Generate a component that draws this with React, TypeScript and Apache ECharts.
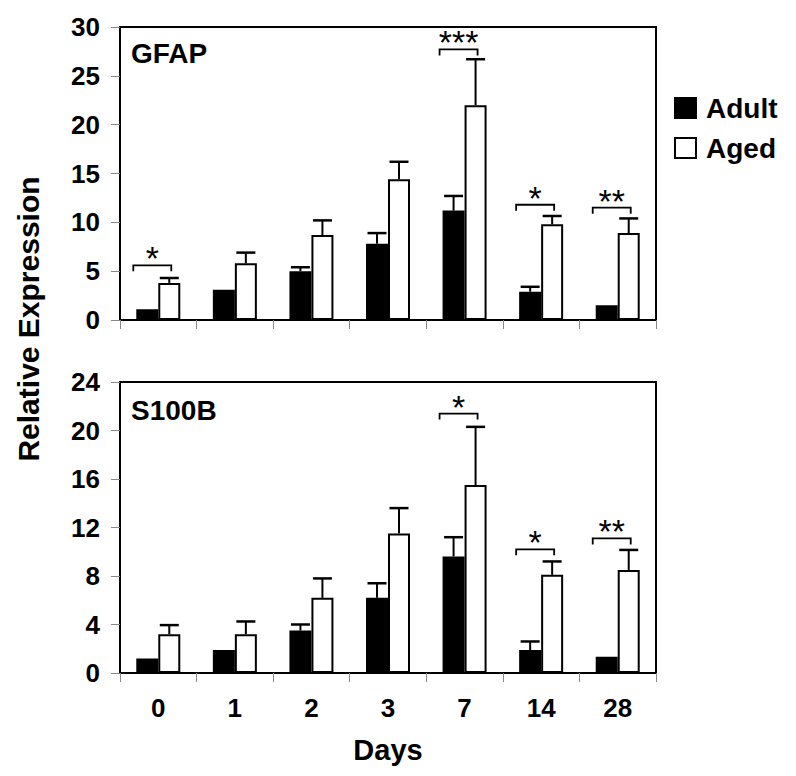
import React, { useEffect, useRef } from "react";
import * as echarts from "echarts";

const categories = ["0", "1", "2", "3", "7", "14", "28"];

const gfapAdult = [1.1, 3.1, 5.0, 7.8, 11.2, 2.9, 1.5];
const gfapAdultErr = [0, 0, 0.4, 1.1, 1.5, 0.5, 0];
const gfapAged = [3.8, 5.8, 8.7, 14.4, 22.0, 9.8, 8.9];
const gfapAgedErr = [0.5, 1.1, 1.5, 1.8, 4.7, 0.85, 1.5];

const s100bAdult = [1.2, 1.9, 3.5, 6.2, 9.6, 1.9, 1.35];
const s100bAdultErr = [0, 0, 0.5, 1.2, 1.6, 0.7, 0];
const s100bAged = [3.2, 3.2, 6.2, 11.5, 15.5, 8.1, 8.5];
const s100bAgedErr = [0.75, 1.05, 1.6, 2.1, 4.8, 1.1, 1.65];

// significance brackets: [category index, bracket level, stars]
const gfapSig: [number, number, string][] = [
  [0, 5.6, "*"],
  [4, 27.7, "***"],
  [5, 11.8, "*"],
  [6, 11.5, "**"],
];
const s100bSig: [number, number, string][] = [
  [4, 21.4, "*"],
  [5, 10.2, "*"],
  [6, 11.1, "**"],
];

const FONT = "'Liberation Sans', Arial, sans-serif";
const BAR_W = 22;

function errSeries(name: string, vals: number[], errs: number[], offset: number, gi: number) {
  return {
    type: "custom",
    name: name + "-err",
    xAxisIndex: gi,
    yAxisIndex: gi,
    z: 5,
    silent: true,
    data: vals.map((v, i) => [i, v, errs[i]]),
    renderItem: (params: any, api: any) => {
      const i = api.value(0);
      const v = api.value(1);
      const e = api.value(2);
      if (!(e > 0)) return null;
      const base = api.coord([i, v]);
      const top = api.coord([i, v + e]);
      const x = base[0] + offset;
      return {
        type: "group",
        children: [
          { type: "line", shape: { x1: x, y1: base[1], x2: x, y2: top[1] }, style: { stroke: "#000", lineWidth: 2 } },
          { type: "line", shape: { x1: x - 9.5, y1: top[1], x2: x + 9.5, y2: top[1] }, style: { stroke: "#000", lineWidth: 2.5 } },
        ],
      };
    },
  };
}

function sigSeries(sig: [number, number, string][], gi: number) {
  return {
    type: "custom",
    name: "sig" + gi,
    xAxisIndex: gi,
    yAxisIndex: gi,
    z: 6,
    silent: true,
    data: sig.map((s) => [s[0], s[1]]),
    renderItem: (params: any, api: any) => {
      const i = api.value(0);
      const y = api.value(1);
      const s = sig[params.dataIndex][2];
      const p = api.coord([i, y]);
      const x1 = p[0] - 25;
      const x2 = p[0] + 13;
      return {
        type: "group",
        children: [
          {
            type: "polyline",
            shape: { points: [[x1, p[1] + 6], [x1, p[1]], [x2, p[1]], [x2, p[1] + 6]] },
            style: { stroke: "#000", lineWidth: 1.8, fill: null },
          },
          {
            type: "text",
            x: (x1 + x2) / 2,
            y: p[1] - 7,
            style: {
              text: s,
              fill: "#000",
              font: "34px " + FONT,
              align: "center",
              verticalAlign: "middle",
            },
          },
        ],
      };
    },
  };
}

export default function App() {
  const ref = useRef<HTMLDivElement>(null);
  useEffect(() => {
    if (!ref.current) return;
    const chart = echarts.init(ref.current, null, { renderer: "svg" });
    const axisCommon = {
      axisLine: { show: true, lineStyle: { color: "#000", width: 2 } },
      axisTick: { show: true, length: 9, lineStyle: { color: "#888", width: 1 } },
      splitLine: { show: false },
    };
    const tickLabel = { fontSize: 26, fontWeight: "bold", color: "#000", fontFamily: FONT };
    const option: any = {
      animation: false,
      backgroundColor: "#fff",
      textStyle: { fontFamily: FONT },
      grid: [
        { left: 120, top: 27, width: 536, height: 293, show: true, borderColor: "#000", borderWidth: 2, backgroundColor: "transparent" },
        { left: 120, top: 382, width: 536, height: 291, show: true, borderColor: "#000", borderWidth: 2, backgroundColor: "transparent" },
      ],
      legend: {
        data: ["Adult", "Aged"],
        orient: "vertical",
        left: 674,
        top: 94,
        padding: 0,
        itemWidth: 21,
        itemHeight: 20,
        itemGap: 12,
        icon: "rect",
        textStyle: { fontSize: 28, fontWeight: "bold", color: "#000", fontFamily: FONT, padding: [0, 0, 0, 5] },
      },
      xAxis: [
        { type: "category", gridIndex: 0, data: categories, ...axisCommon, axisLabel: { show: false } },
        {
          type: "category",
          gridIndex: 1,
          data: categories,
          ...axisCommon,
          axisLabel: { show: true, ...tickLabel, margin: 22 },
        },
      ],
      yAxis: [
        {
          type: "value",
          gridIndex: 0,
          min: 0,
          max: 30,
          interval: 5,
          ...axisCommon,
          axisLabel: { ...tickLabel, margin: 20 },
        },
        {
          type: "value",
          gridIndex: 1,
          min: 0,
          max: 24,
          interval: 4,
          ...axisCommon,
          axisLabel: { ...tickLabel, margin: 20 },
        },
      ],
      series: [
        { type: "bar", name: "Adult", xAxisIndex: 0, yAxisIndex: 0, data: gfapAdult, barWidth: BAR_W, barGap: "0%", itemStyle: { color: "#000", borderColor: "#000", borderWidth: 2 } },
        { type: "bar", name: "Aged", xAxisIndex: 0, yAxisIndex: 0, data: gfapAged, barWidth: BAR_W, barGap: "0%", itemStyle: { color: "#fff", borderColor: "#000", borderWidth: 2 } },
        { type: "bar", name: "Adult", xAxisIndex: 1, yAxisIndex: 1, data: s100bAdult, barWidth: BAR_W, barGap: "0%", itemStyle: { color: "#000", borderColor: "#000", borderWidth: 2 } },
        { type: "bar", name: "Aged", xAxisIndex: 1, yAxisIndex: 1, data: s100bAged, barWidth: BAR_W, barGap: "0%", itemStyle: { color: "#fff", borderColor: "#000", borderWidth: 2 } },
        errSeries("Adult", gfapAdult, gfapAdultErr, -BAR_W / 2, 0),
        errSeries("Aged", gfapAged, gfapAgedErr, BAR_W / 2, 0),
        errSeries("Adult", s100bAdult, s100bAdultErr, -BAR_W / 2, 1),
        errSeries("Aged", s100bAged, s100bAgedErr, BAR_W / 2, 1),
        sigSeries(gfapSig, 0),
        sigSeries(s100bSig, 1),
      ],
      graphic: [
        { type: "text", x: 131, y: 53, style: { text: "GFAP", font: "bold 28px " + FONT, fill: "#000", verticalAlign: "middle" } },
        { type: "text", x: 131, y: 410, style: { text: "S100B", font: "bold 28px " + FONT, fill: "#000", verticalAlign: "middle" } },
        {
          type: "text",
          x: 28,
          y: 319,
          rotation: Math.PI / 2,
          style: { text: "Relative Expression", font: "bold 30px " + FONT, fill: "#000", align: "center", verticalAlign: "middle" },
        },
        {
          type: "text",
          x: 388,
          y: 750,
          style: { text: "Days", font: "bold 29px " + FONT, fill: "#000", align: "center", verticalAlign: "middle" },
        },
      ],
    };
    chart.setOption(option);
    return () => chart.dispose();
  }, []);
  return <div ref={ref} style={{ position: "absolute", left: 0, top: 0, width: 796, height: 776 }} />;
}
